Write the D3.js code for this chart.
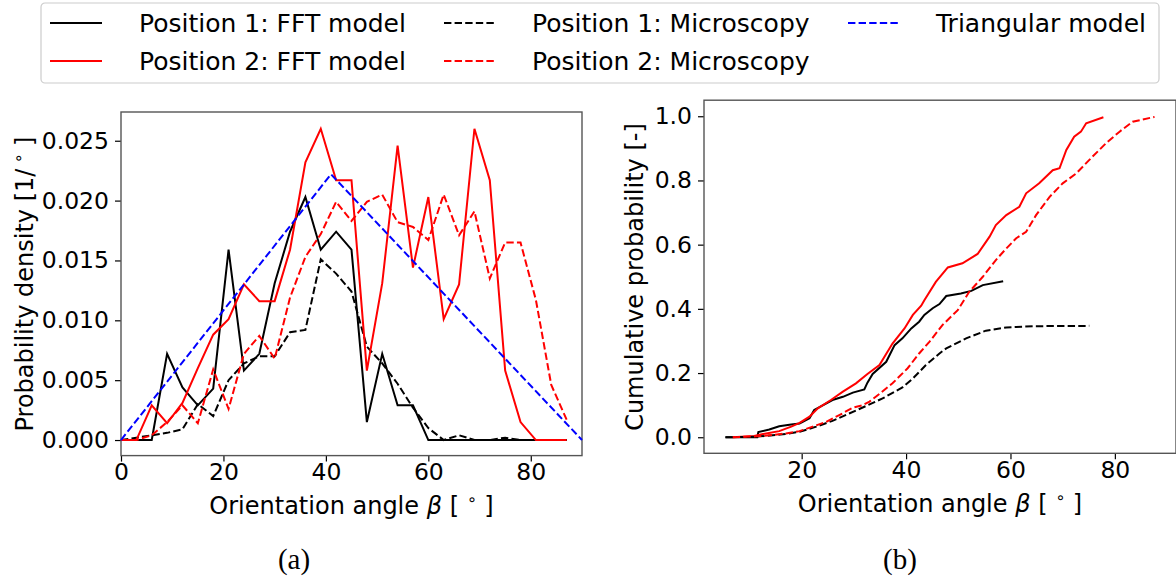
<!DOCTYPE html>
<html><head><meta charset="utf-8">
<script src="https://cdn.jsdelivr.net/npm/d3@7"></script>
<style>body{margin:0;background:#fff}svg{display:block}</style>
</head><body><svg id="c" width="1176" height="581"></svg>
<script>
// ---------- Panel (a): probability density (3-degree bins) ----------
const binAngles = [0,3,6,9,12,15,18,21,24,27,30,33,36,39,42,45,48,51,54,57,60,63,66,69,72,75,78,81,84,87];
const pos1FFT   = [0,0,0,0.0072,0.0044,0.0029,0.0043,0.0159,0.0058,0.0072,0.0131,0.0174,0.0203,0.0159,0.0174,0.0159,0.0015,0.0072,0.0029,0.0029,0,0,0,0,0,0,0,0,0,0];
const pos1Micro = [0,0.0002,0.0004,0.0006,0.0009,0.003,0.002,0.005,0.0064,0.007,0.007,0.009,0.0092,0.0151,0.0139,0.0124,0.0078,0.0064,0.0047,0.0027,0.001,0,0.0004,0,0,0.0002,0,0,0,0];
const pos2FFT   = [0,0,0.0029,0.0014,0.0031,0.006,0.0088,0.0101,0.013,0.0116,0.0116,0.0159,0.0232,0.026,0.0217,0.0217,0.0058,0.0131,0.0246,0.0144,0.0203,0.0101,0.013,0.026,0.0217,0.0058,0.0015,0,0,0];
const pos2Micro = [0,0,0.0004,0.0015,0.0029,0.0014,0.0059,0.0026,0.0072,0.0087,0.0068,0.0119,0.0153,0.0172,0.0199,0.0183,0.0199,0.0205,0.0182,0.0178,0.0167,0.0205,0.0171,0.0191,0.0135,0.0165,0.0165,0.0117,0.0046,0.0017];
const triAngles = [0,41,90];
const triValues = [0,0.0222,0];

// ---------- Panel (b): cumulative probability ([angle, value]) ----------
const cdfPos1FFT = [[5.4,0],[11.5,0],[11.7,0.016],[13.8,0.024],[15.7,0.034],[18,0.04],[19.6,0.043],[21.5,0.059],[22.4,0.085],[24.3,0.102],[25.9,0.116],[27.9,0.126],[29.8,0.139],[32,0.149],[32.6,0.17],[33.6,0.197],[36.2,0.235],[37.8,0.287],[39.3,0.308],[41,0.339],[42.5,0.36],[43.5,0.381],[45.1,0.402],[46.4,0.415],[47.7,0.44],[50.5,0.448],[52.5,0.456],[54.7,0.474],[58.6,0.486]];
const cdfPos1Micro = [[5.4,0],[10,0.001],[13.2,0.004],[16.4,0.009],[19.6,0.017],[22.8,0.033],[25.9,0.051],[29.1,0.074],[32.3,0.097],[35.5,0.121],[39.3,0.155],[41.3,0.183],[43.8,0.225],[46.4,0.261],[47.7,0.277],[51.5,0.308],[55.3,0.332],[59.2,0.342],[64.3,0.346],[75.1,0.347]];
const cdfPos2FFT = [[6.8,0],[10.9,0.004],[13.2,0.012],[15.7,0.019],[18,0.033],[19.6,0.045],[21.5,0.064],[23.1,0.09],[25.6,0.116],[27.9,0.142],[30.4,0.168],[32.6,0.197],[34.9,0.225],[37.4,0.292],[39.7,0.339],[41.3,0.381],[42.9,0.41],[43.5,0.427],[45.7,0.484],[48,0.529],[50.8,0.542],[53.7,0.571],[56,0.625],[57.2,0.661],[59.2,0.692],[61.7,0.718],[63,0.76],[65.5,0.791],[68.1,0.832],[69.4,0.838],[70.7,0.895],[72.2,0.936],[73.5,0.952],[74.5,0.978],[77.8,0.997]];
const cdfPos2Micro = [[6.8,0],[11.3,0.003],[14.4,0.007],[17,0.012],[19.6,0.019],[22.1,0.033],[24.7,0.048],[27.2,0.069],[29.8,0.092],[31.7,0.1],[33,0.111],[34.9,0.135],[37.4,0.168],[40.3,0.215],[42.5,0.261],[44.5,0.298],[47,0.35],[49.9,0.396],[52.1,0.453],[54.7,0.5],[57.2,0.552],[59.2,0.588],[61.1,0.62],[63,0.64],[64.9,0.692],[67.5,0.749],[70,0.791],[72.6,0.822],[75.4,0.869],[78.3,0.916],[80.9,0.952],[83.4,0.983],[87.6,0.998]];

// ---------- Ticks & labels ----------
const ticksAX = [0,20,40,60,80];
const ticksAY = [0,0.005,0.010,0.015,0.020,0.025];
const ticksBX = [20,40,60,80];
const ticksBY = [0,0.2,0.4,0.6,0.8,1.0];
const legendLabels = ["Position 1: FFT model","Position 2: FFT model","Position 1: Microscopy","Position 2: Microscopy","Triangular model"];

const FONT = "DejaVu Sans";
const DASH = "7.4,3.2";
const svg = d3.select("#c");
svg.append("rect").attr("width",1176).attr("height",581).attr("fill","#fff");

const xA = d3.scaleLinear().domain([0,90]).range([121,582]);
const yA = d3.scaleLinear().domain([-0.0013,0.0274]).range([455.6,112]);
const xB = d3.scaleLinear().domain([1.29,91.71]).range([704,1176]);
const yB = d3.scaleLinear().domain([-0.05,1.05]).range([453.3,100.2]);

function drawAxes(x, y, tx, ty, fmtY) {
  const [x0,x1] = x.range(), [y0,y1] = y.range();
  const gx = svg.append("g").attr("transform",`translate(0,${y0})`)
    .call(d3.axisBottom(x).tickValues(tx).tickFormat(d3.format("d")).tickSize(6).tickPadding(2));
  const gy = svg.append("g").attr("transform",`translate(${x0},0)`)
    .call(d3.axisLeft(y).tickValues(ty).tickFormat(d3.format(fmtY)).tickSize(6).tickPadding(6));
  [gx,gy].forEach(g=>{
    g.select(".domain").remove();
    g.attr("font-family",FONT).attr("font-size",23.5);
    g.selectAll("line").attr("stroke","#000").attr("stroke-width",1.2);
    g.selectAll("text").attr("fill","#000");
  });
  svg.append("rect").attr("x",x0).attr("y",y1).attr("width",x1-x0).attr("height",y0-y1)
    .attr("fill","none").attr("stroke","#555").attr("stroke-width",1.4);
}

function line(x,y){ return d3.line().x(d=>x(d[0])).y(d=>y(d[1])); }
function plot(data, x, y, color, dashed){
  svg.append("path").datum(data).attr("d",line(x,y)).attr("fill","none")
    .attr("stroke",color).attr("stroke-width",2).attr("stroke-linejoin","miter")
    .attr("stroke-dasharray",dashed?DASH:null);
}

// Panel (a)
drawAxes(xA,yA,ticksAX,ticksAY,".3f");
const zipA = vals => binAngles.map((a,i)=>[a,vals[i]]);
plot(zipA(pos1FFT),xA,yA,"#000",false);
plot(zipA(pos1Micro),xA,yA,"#000",true);
plot(zipA(pos2FFT),xA,yA,"#f00",false);
plot(zipA(pos2Micro),xA,yA,"#f00",true);
plot(triAngles.map((a,i)=>[a,triValues[i]]),xA,yA,"#00f",true);

// Panel (b)
drawAxes(xB,yB,ticksBX,ticksBY,".1f");
plot(cdfPos1FFT,xB,yB,"#000",false);
plot(cdfPos2FFT,xB,yB,"#f00",false);
plot(cdfPos1Micro,xB,yB,"#000",true);
plot(cdfPos2Micro,xB,yB,"#f00",true);

// Axis labels
function xLabel(cx, y){
  const t = svg.append("text").attr("x",cx).attr("y",y).attr("text-anchor","middle")
    .attr("font-family",FONT).attr("font-size",24).attr("fill","#000");
  t.append("tspan").text("Orientation angle ");
  t.append("tspan").attr("font-style","italic").text("β");
  t.append("tspan").text(" [ ");
  t.append("tspan").attr("font-size",16).attr("dy",-9).text("∘");
  t.append("tspan").attr("dy",9).text(" ]");
}
xLabel((121+582)/2, 514);
xLabel((704+1176)/2, 512);

function yLabel(cx, cy, main, tail){
  const t = svg.append("text").attr("transform",`translate(${cx},${cy}) rotate(-90)`)
    .attr("text-anchor","middle").attr("font-family",FONT).attr("font-size",24).attr("fill","#000");
  t.append("tspan").text(main);
  if (tail) {
    t.append("tspan").attr("font-size",16).attr("dy",-9).text(" ∘");
    t.append("tspan").attr("dy",9).text(" ]");
  }
}
yLabel(33, 284, "Probability density [1/", true);
yLabel(643, 277, "Cumulative probability [-]", false);

// Captions
svg.append("text").attr("x",294).attr("y",569).attr("text-anchor","middle")
  .attr("font-family","Liberation Serif").attr("font-size",29).text("(a)");
svg.append("text").attr("x",900).attr("y",569).attr("text-anchor","middle")
  .attr("font-family","Liberation Serif").attr("font-size",29).text("(b)");

// Legend
const lg = svg.append("g");
lg.append("rect").attr("x",41).attr("y",3).attr("width",1118).attr("height",80).attr("rx",4)
  .attr("fill","#fff").attr("stroke","#ccc").attr("stroke-width",1.2);
const legendItems = [
  {label:legendLabels[0], color:"#000", dashed:false, col:0, row:0},
  {label:legendLabels[1], color:"#f00", dashed:false, col:0, row:1},
  {label:legendLabels[2], color:"#000", dashed:true,  col:1, row:0},
  {label:legendLabels[3], color:"#f00", dashed:true,  col:1, row:1},
  {label:legendLabels[4], color:"#00f", dashed:true,  col:2, row:0}
];
const colHandle = [[50,102],[444,494],[848,898]];
const colText = [139,532,936];
const rowY = [23,61];
legendItems.forEach(it=>{
  const yy = rowY[it.row];
  lg.append("line").attr("x1",colHandle[it.col][0]).attr("x2",colHandle[it.col][1])
    .attr("y1",yy).attr("y2",yy).attr("stroke",it.color).attr("stroke-width",2)
    .attr("stroke-dasharray",it.dashed?DASH:null);
  lg.append("text").attr("x",colText[it.col]).attr("y",yy).attr("dy","0.35em")
    .attr("font-family",FONT).attr("font-size",25).attr("fill","#000").text(it.label);
});
</script>
</body></html>
